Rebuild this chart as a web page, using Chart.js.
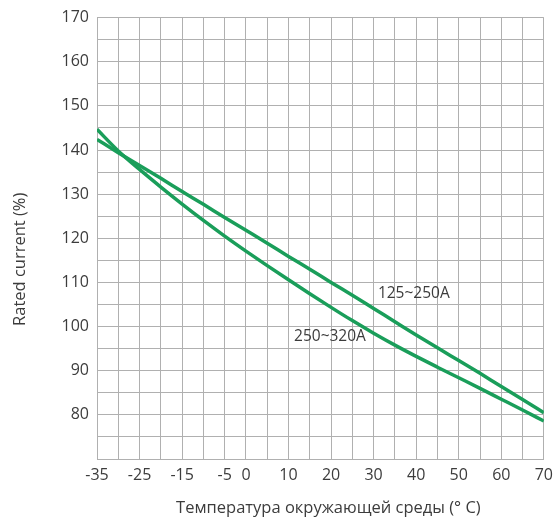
<!DOCTYPE html>
<html>
<head>
<meta charset="utf-8">
<script src="https://cdn.jsdelivr.net/npm/chart.js@4"></script>
<style>
  html, body { margin: 0; padding: 0; background: #fff; }
  #wrap { width: 560px; height: 524px; }
</style>
</head>
<body>
<div id="wrap"><canvas id="deratingChart"></canvas></div>
<script>
// ambient temperature, °C
const temps = [-35, -30, -25, -20, -15, -10, -5, 0, 5, 10, 15, 20, 25, 30, 35, 40, 45, 50, 55, 60, 65, 70];

// rated current, %
const current125_250 = [142.4, 139.4, 136.5, 133.6, 130.6, 127.7, 124.7, 121.8, 118.9, 115.9, 113.0, 110.0, 107.1, 104.1, 101.1, 98.1, 95.2, 92.3, 89.4, 86.4, 83.5, 80.5];
const current250_320 = [144.7, 139.8, 135.6, 131.6, 127.75, 124.05, 120.5, 117.1, 113.8, 110.6, 107.45, 104.35, 101.35, 98.5, 95.8, 93.25, 90.8, 88.4, 86.0, 83.55, 81.1, 78.6];

const seriesNames = ["125~250A", "250~320A"];
// where the curve names sit (data coords)
const nameX = [31, 11.3];
const nameY = [107.5, 97.7];

const xTickLabels = [-35, -25, -15, -5, 0, 10, 20, 30, 40, 50, 60, 70];
const yTickLabels = [80, 90, 100, 110, 120, 130, 140, 150, 160, 170];

const xTitle = "Температура окружающей среды (° C)";
const yTitle = "Rated current (%)";

const lineColor = "#1a9e5a";
const textColor = "#3c3c3c";
const fontFamily = "'Open Sans', sans-serif";

function toPoints(ys) {
  return temps.map((t, i) => ({ x: t, y: ys[i] }));
}

// curve names and axis titles
const textPlugin = {
  id: "textPlugin",
  afterDraw: function (chart) {
    const ctx = chart.ctx;
    const xs = chart.scales.x;
    const ys = chart.scales.y;
    const area = chart.chartArea;
    ctx.save();
    ctx.fillStyle = textColor;
    ctx.font = "15.5px " + fontFamily;
    ctx.textAlign = "left";
    ctx.textBaseline = "middle";
    seriesNames.forEach(function (name, i) {
      ctx.fillText(name, xs.getPixelForValue(nameX[i]), ys.getPixelForValue(nameY[i]));
    });

    ctx.font = "16.5px " + fontFamily;
    ctx.textAlign = "center";
    ctx.fillText(xTitle, (area.left + area.right) / 2 + 8, 508);

    ctx.translate(20, (area.top + area.bottom) / 2 + 21);
    ctx.rotate(-Math.PI / 2);
    ctx.fillText(yTitle, 0, 0);
    ctx.restore();
  },
};

const ctx = document.getElementById("deratingChart").getContext("2d");
new Chart(ctx, {
  type: "line",
  data: {
    datasets: [
      {
        label: seriesNames[0],
        data: toPoints(current125_250),
        borderColor: lineColor,
        borderWidth: 3.5,
        pointRadius: 0,
        cubicInterpolationMode: "monotone",
        fill: false,
      },
      {
        label: seriesNames[1],
        data: toPoints(current250_320),
        borderColor: lineColor,
        borderWidth: 3.5,
        pointRadius: 0,
        cubicInterpolationMode: "monotone",
        fill: false,
      },
    ],
  },
  options: {
    responsive: true,
    maintainAspectRatio: false,
    animation: false,
    layout: {
      padding: { left: 0, right: 16, top: 15, bottom: 0 },
    },
    plugins: {
      legend: { display: false },
      tooltip: { enabled: false },
    },
    scales: {
      x: {
        type: "linear",
        min: -35,
        max: 70,
        afterFit: function (scale) {
          scale.height = 65;
        },
        afterBuildTicks: function (scale) {
          scale.ticks = temps.map((t) => ({ value: t }));
        },
        grid: {
          color: "#b0b0b0",
          lineWidth: 1,
          drawTicks: false,
        },
        border: { color: "#b0b0b0" },
        ticks: {
          autoSkip: false,
          maxRotation: 0,
          padding: 7,
          color: textColor,
          font: { family: fontFamily, size: 16 },
          callback: function (v) {
            return xTickLabels.includes(v) ? String(v) : "";
          },
        },
      },
      y: {
        min: 70,
        max: 170,
        afterFit: function (scale) {
          scale.width = 97;
        },
        grid: {
          color: "#b0b0b0",
          lineWidth: 1,
          drawTicks: false,
        },
        border: { color: "#b0b0b0" },
        ticks: {
          stepSize: 5,
          autoSkip: false,
          padding: 8,
          color: textColor,
          font: { family: fontFamily, size: 16 },
          callback: function (v) {
            return yTickLabels.includes(v) ? String(v) : "";
          },
        },
      },
    },
  },
  plugins: [textPlugin],
});
</script>
</body>
</html>
